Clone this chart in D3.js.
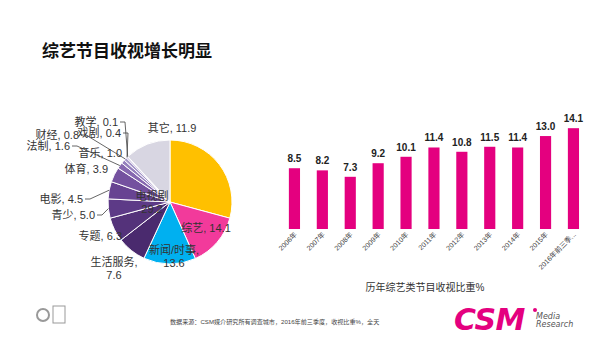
<!DOCTYPE html>
<html>
<head>
<meta charset="utf-8">
<title>综艺节目收视增长明显</title>
<script src="https://cdn.jsdelivr.net/npm/d3@7/dist/d3.min.js"></script>
<style>
  body { margin:0; background:#fff; }
  text { font-family: "Liberation Sans", "Noto Sans CJK SC", sans-serif; }
</style>
</head>
<body>
<svg width="600" height="337"></svg>
<script>
// 饼图数据（从12点方向顺时针）
var pieNames  = ["电视剧","综艺","新闻/时事","生活服务","专题","青少","电影","体育","法制","音乐","财经","戏剧","教学","其它"];
var pieValues = [29.2, 14.1, 13.6, 7.6, 6.3, 5.0, 4.5, 3.9, 1.6, 1.0, 0.8, 0.4, 0.1, 11.9];
var pieColors = ["#FFC000","#F23A9B","#00B0F0","#4A2A6E","#54327A","#5D3A87","#674392","#74519F","#8667B0","#9580BE","#A596C9","#B6ABD3","#C4BCDB","#D8D6E2"];

// 柱状图数据
var years  = ["2006年","2007年","2008年","2009年","2010年","2011年","2012年","2013年","2014年","2015年","2016年前三季..."];
var shares = [8.5, 8.2, 7.3, 9.2, 10.1, 11.4, 10.8, 11.5, 11.4, 13.0, 14.1];

var svg = d3.select("svg");

// 标题
svg.append("text").attr("x", 42).attr("y", 57)
  .attr("font-size", 17).attr("font-weight", "bold").attr("fill", "#111")
  .style("font-family", "'Noto Sans CJK SC', sans-serif")
  .text("综艺节目收视增长明显");

// ---- 饼图 ----
var cx = 170, cy = 202, r = 62;
var pie = d3.pie().sort(null).value(function(d){ return d; });
var arc = d3.arc().innerRadius(0).outerRadius(r);
var edge = d3.arc().innerRadius(r).outerRadius(r);
var pieData = pie(pieValues);

var pg = svg.append("g").attr("transform", "translate(" + cx + "," + cy + ")");
pg.selectAll("path").data(pieData).enter().append("path")
  .attr("d", arc)
  .attr("fill", function(d, i){ return pieColors[i]; })
  .attr("stroke", "#fff").attr("stroke-width", 1);

// 标签位置（相对圆心），anchor，是否有引线
var labelPos = [
  {p:[-18,-6], a:"middle", two:true},
  {p:[36,26], a:"middle"},
  {p:[4,48], a:"middle", two:true},
  {p:[-56,60], a:"middle", two:true},
  {p:[-48,34], a:"end"},
  {p:[-75,13], a:"end", lead:true},
  {p:[-87,-3], a:"end", lead:true},
  {p:[-62,-33], a:"end"},
  {p:[-100,-56], a:"end", lead:true},
  {p:[-48,-49], a:"end"},
  {p:[-91,-67], a:"end", lead:true},
  {p:[-49,-69], a:"end", lead:true},
  {p:[-52,-80], a:"end", lead:true},
  {p:[2,-74], a:"middle"}
];

pieData.forEach(function(d, i){
  var lp = labelPos[i];
  var name = pieNames[i], val = d3.format(".1f")(pieValues[i]);
  if (lp.lead) {
    var e = edge.centroid(d);
    var x0 = lp.p[0] + 2, y0 = lp.p[1];
    pg.append("polyline")
      .attr("points", [[x0, y0], [x0 + 5, y0], e].map(function(q){ return q.join(","); }).join(" "))
      .attr("fill", "none").attr("stroke", "#404040").attr("stroke-width", 0.8);
  }
  if (lp.two) {
    pg.append("text").attr("x", lp.p[0]).attr("y", lp.p[1] + 4)
      .attr("text-anchor", lp.a).attr("font-size", 11).attr("fill", "#333")
      .text(name + (i === 0 ? "" : ","));
    pg.append("text").attr("x", lp.p[0]).attr("y", lp.p[1] + 17)
      .attr("text-anchor", lp.a).attr("font-size", 11).attr("fill", "#333")
      .text(val);
  } else {
    pg.append("text").attr("x", lp.p[0]).attr("y", lp.p[1] + 4)
      .attr("text-anchor", lp.a).attr("font-size", 11).attr("fill", "#333")
      .text(name + ", " + val);
  }
});

// ---- 柱状图 ----
var x = d3.scaleBand().domain(years).range([280.5, 587.4]).paddingInner(0.6).paddingOuter(0.3);
var y = d3.scaleLinear().domain([0, 15]).range([229, 121.75]);

var bg = svg.append("g");
bg.selectAll("rect").data(shares).enter().append("rect")
  .attr("x", function(d, i){ return x(years[i]); })
  .attr("y", function(d){ return y(d); })
  .attr("width", x.bandwidth())
  .attr("height", function(d){ return y(0) - y(d); })
  .attr("fill", "#E4007F");

bg.selectAll("text.val").data(shares).enter().append("text")
  .attr("class", "val")
  .attr("x", function(d, i){ return x(years[i]) + x.bandwidth() / 2; })
  .attr("y", function(d){ return y(d) - 6; })
  .attr("text-anchor", "middle").attr("font-size", 10).attr("font-weight", "bold")
  .attr("fill", "#222")
  .text(function(d){ return d3.format(".1f")(d); });

var xAxis = svg.append("g").attr("transform", "translate(0,229)")
  .call(d3.axisBottom(x).tickSize(0).tickPadding(0));
xAxis.select(".domain").remove();
xAxis.selectAll("text")
  .attr("font-size", 7).attr("fill", "#404040")
  .attr("text-anchor", "end")
  .attr("dy", 0)
  .attr("transform", "translate(3,6) rotate(-45)");

svg.append("text").attr("x", 425).attr("y", 291)
  .attr("text-anchor", "middle").attr("font-size", 10).attr("fill", "#333")
  .text("历年综艺类节目收视比重%");

// ---- 页脚 ----
svg.append("text").attr("x", 170).attr("y", 324)
  .attr("font-size", 6.1).attr("fill", "#444")
  .text("数据来源：CSM媒介研究所有调查城市，2016年前三季度，收视比重%，全天");

// CSM 标志
svg.append("text").attr("x", 454).attr("y", 330)
  .attr("font-size", 30).attr("font-weight", "bold").attr("font-style", "italic")
  .attr("fill", "#E4007F").attr("letter-spacing", -0.5)
  .style("font-family", "'DejaVu Sans', sans-serif")
  .text("CSM");
svg.append("circle").attr("cx", 535).attr("cy", 310).attr("r", 2).attr("fill", "#E4007F");
svg.append("text").attr("x", 536).attr("y", 319)
  .attr("font-size", 8).attr("font-style", "italic").attr("fill", "#555")
  .style("font-family", "'DejaVu Sans', sans-serif").text("Media");
svg.append("text").attr("x", 536).attr("y", 327)
  .attr("font-size", 8).attr("font-style", "italic").attr("fill", "#555")
  .style("font-family", "'DejaVu Sans', sans-serif").text("Research");

// 左下角认证图标
var lg = svg.append("g").attr("fill", "none").attr("stroke", "#999");
lg.append("circle").attr("cx", 43).attr("cy", 315).attr("r", 6).attr("stroke-width", 2);
lg.append("rect").attr("x", 53).attr("y", 306).attr("width", 12).attr("height", 17).attr("stroke-width", 1);
</script>
</body>
</html>
